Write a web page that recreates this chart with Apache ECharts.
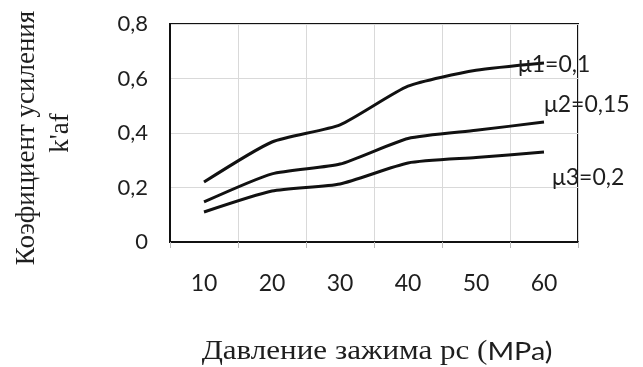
<!DOCTYPE html>
<html><head><meta charset="utf-8">
<script src="https://cdn.jsdelivr.net/npm/echarts@6/dist/echarts.min.js"></script>
<style>html,body{margin:0;padding:0;background:#fff}#c{width:643px;height:367px}</style>
</head><body><div id="c"></div>
<script>
const categories = ['10', '20', '30', '40', '50', '60'];
const mu1 = [0.22, 0.367, 0.43, 0.572, 0.63, 0.657];
const mu2 = [0.147, 0.25, 0.286, 0.38, 0.41, 0.44];
const mu3 = [0.11, 0.187, 0.213, 0.29, 0.31, 0.33];
const seriesNames = ['μ1=0,1', 'μ2=0,15', 'μ3=0,2'];
const yTicks = [0, 0.2, 0.4, 0.6, 0.8];

const chart = echarts.init(document.getElementById('c'), null, {renderer: 'canvas'});
const lineStyle = {color: '#111', width: 3};
function mkSeries(name, data) {
  return {name, type: 'line', data, smooth: 0.2, symbol: 'none', lineStyle, itemStyle: {color: '#111'}, z: 3};
}
const txt = '#1e1e1e';
chart.setOption({
  animation: false,
  grid: {left: 170, top: 24, right: 65, bottom: 125, show: true, borderColor: '#111', borderWidth: 2, backgroundColor: 'transparent'},
  xAxis: {
    type: 'category', data: categories, boundaryGap: true,
    axisLine: {show: true, lineStyle: {color: '#111', width: 2}},
    axisTick: {show: true, length: 6, lineStyle: {color: '#bbb', width: 1}},
    axisLabel: {fontFamily: 'Lato', fontSize: 23, color: txt, margin: 30},
    splitLine: {show: true, lineStyle: {color: '#d9d9d9', width: 1}}
  },
  yAxis: {
    type: 'value', min: 0, max: 0.8, interval: 0.2,
    axisLine: {show: true, lineStyle: {color: '#111', width: 2}},
    axisTick: {show: false},
    axisLabel: {fontFamily: 'Lato', fontSize: 22, color: txt, margin: 22,
      formatter: v => { const t = yTicks.find(x => Math.abs(x - v) < 1e-9); return t === 0 ? '0' : String(t).replace('.', ','); }},
    splitLine: {show: true, lineStyle: {color: '#d9d9d9', width: 1}}
  },
  series: [mkSeries(seriesNames[0], mu1), mkSeries(seriesNames[1], mu2), mkSeries(seriesNames[2], mu3)],
  graphic: [
    {type: 'text', x: 518, y: 65, z: 10, style: {text: seriesNames[0], font: '23px Lato', fill: txt, verticalAlign: 'middle'}},
    {type: 'text', x: 544, y: 105, z: 10, style: {text: seriesNames[1], font: '23px Lato', fill: txt, verticalAlign: 'middle'}},
    {type: 'text', x: 552, y: 178, z: 10, style: {text: seriesNames[2], font: '23px Lato', fill: txt, verticalAlign: 'middle'}},
    {type: 'text', x: 27, y: 138, rotation: Math.PI / 2, z: 10,
      style: {text: 'Коэфициент усиления', font: '27px "Liberation Serif"', fill: txt, align: 'center', verticalAlign: 'middle'}},
    {type: 'text', x: 61, y: 133, rotation: Math.PI / 2, z: 10,
      style: {text: "k'af", font: '27px "Liberation Serif"', fill: txt, align: 'center', verticalAlign: 'middle'}},
    {type: 'text', x: 377, y: 352, scaleX: 1.15, z: 10,
      style: {text: '{a|Давление зажима pc (}{b|MPa)}', align: 'center', verticalAlign: 'middle',
        rich: {a: {font: '27px "Liberation Serif"', fill: txt}, b: {font: '25px Lato', fill: txt}}}}
  ]
});
</script></body></html>
